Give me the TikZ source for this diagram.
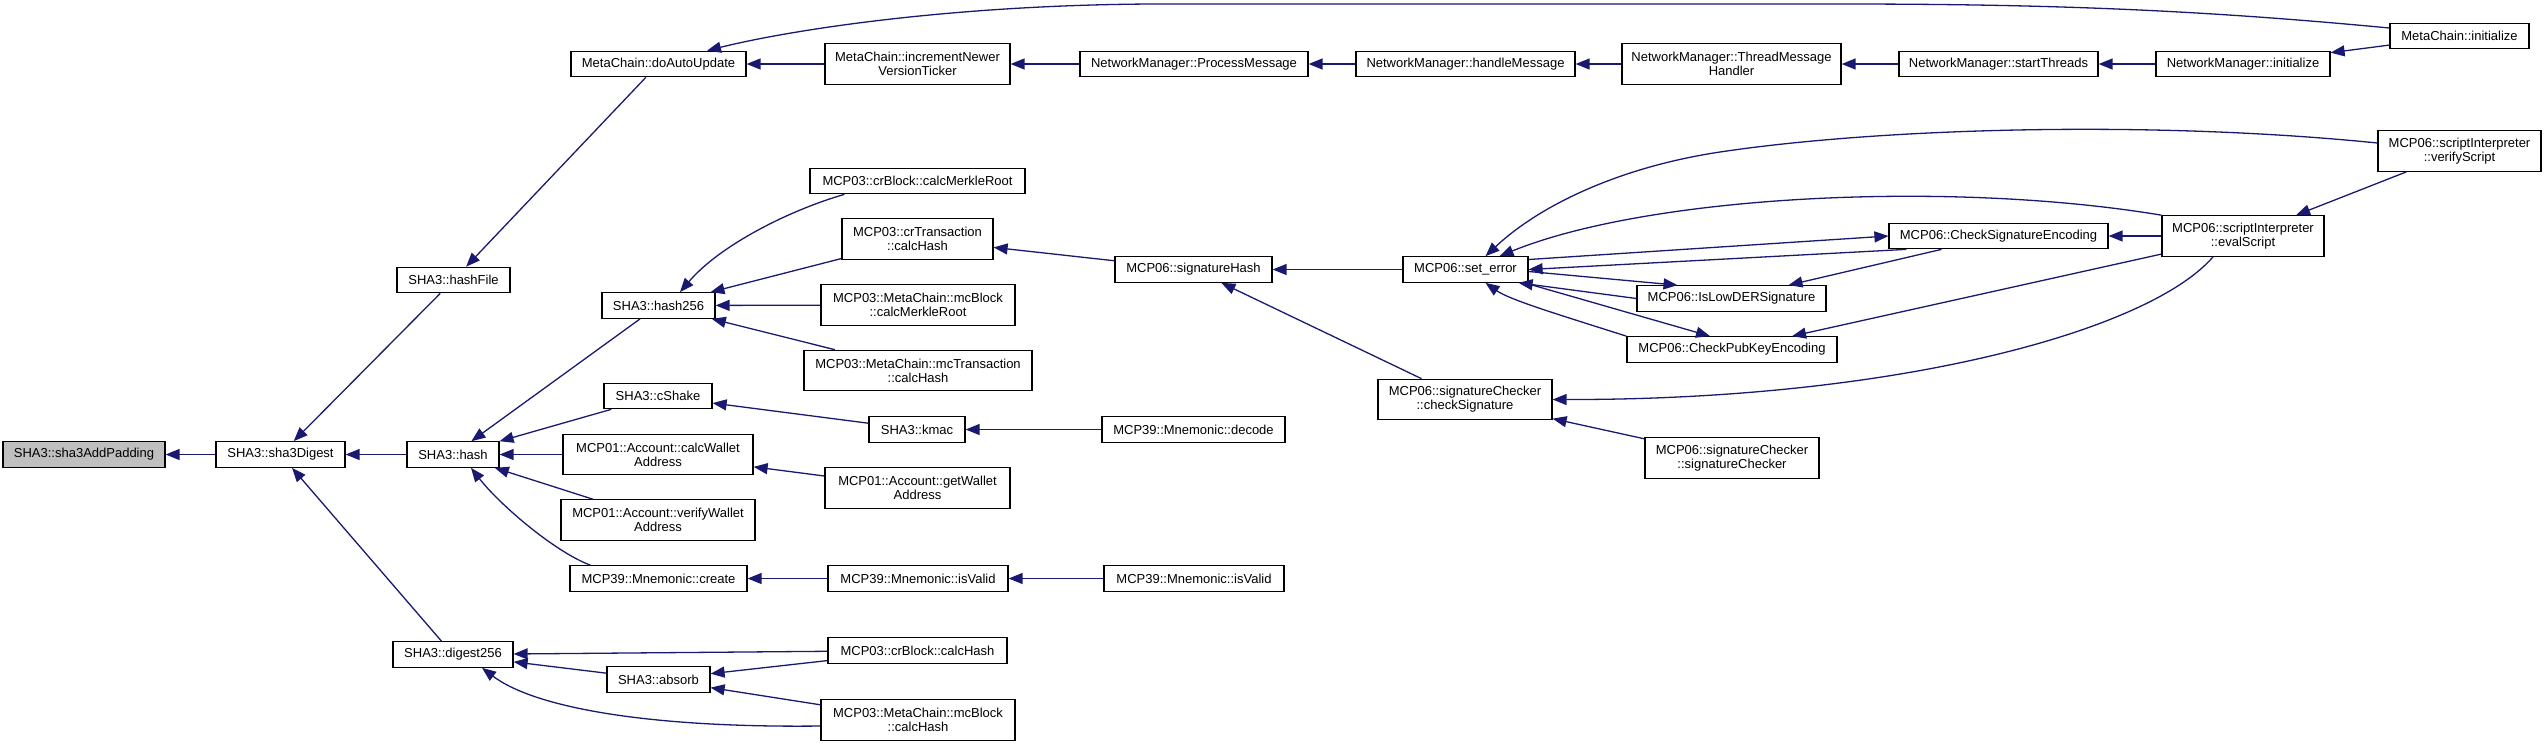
\documentclass[tikz,border=0pt]{standalone}
\usepackage{fontspec}
\setmainfont{Liberation Sans}
\usetikzlibrary{arrows.meta}
\definecolor{edgecol}{HTML}{191970}
\definecolor{rootfill}{HTML}{BFBFBF}
\tikzset{
  nd/.style={draw=black, line width=0.6pt, fill=white, minimum width=#1, minimum height=12.75pt,
    inner sep=1pt, align=center, font=\fontsize{6.5}{7}\selectfont},
  tl/.style={nd=#1, minimum height=20.25pt},
  e/.style={draw=edgecol, line width=0.65pt, -{Triangle[length=7pt,width=5.5pt]}}
}
\begin{document}
\begin{tikzpicture}[x=0.5pt,y=-0.5pt]
\useasboundingbox (0,0) rectangle (2547,746);
% column 0-2
\node[nd=81pt, fill=rootfill] (pad) at (84,454.5) {SHA3::sha3AddPadding};
\node[nd=64.5pt] (sd) at (280.5,454.5) {SHA3::sha3Digest};
\node[nd=46pt] (hash) at (453,454.5) {SHA3::hash};
\node[nd=56.5pt] (hashFile) at (453.5,280) {SHA3::hashFile};
\node[nd=60pt] (dig) at (453,654.5) {SHA3::digest256};
% column 3
\node[nd=87.5pt] (doAuto) at (658.5,64) {MetaChain::doAutoUpdate};
\node[nd=56.5pt] (h256) at (658.5,305.5) {SHA3::hash256};
\node[nd=54pt] (cShake) at (658,396) {SHA3::cShake};
\node[tl=95pt] (calcW) at (658,454.5) {MCP01::Account::calcWallet\\Address};
\node[tl=97pt] (verW) at (658,520) {MCP01::Account::verifyWallet\\Address};
\node[nd=88.5pt] (create) at (658.5,578.5) {MCP39::Mnemonic::create};
\node[nd=51.5pt] (absorb) at (658.5,679.5) {SHA3::absorb};
% column 4
\node[tl=92.5pt] (incr) at (917.5,64) {MetaChain::incrementNewer\\VersionTicker};
\node[nd=107.5pt] (crMR) at (917.5,181) {MCP03::crBlock::calcMerkleRoot};
\node[tl=75.5pt] (crTx) at (917.5,239) {MCP03::crTransaction\\::calcHash};
\node[tl=97pt] (mcMR) at (918,305) {MCP03::MetaChain::mcBlock\\::calcMerkleRoot};
\node[tl=114pt] (mcTx) at (918,370.5) {MCP03::MetaChain::mcTransaction\\::calcHash};
\node[nd=48pt] (kmac) at (917,429.5) {SHA3::kmac};
\node[tl=92.5pt] (getW) at (917.5,488) {MCP01::Account::getWallet\\Address};
\node[nd=90pt] (isV1) at (918,578.5) {MCP39::Mnemonic::isValid};
\node[nd=89.5pt] (crH) at (917.5,650.5) {MCP03::crBlock::calcHash};
\node[tl=97pt] (mcH) at (918,720) {MCP03::MetaChain::mcBlock\\::calcHash};
% column 5
\node[nd=114pt] (proc) at (1194,64) {NetworkManager::ProcessMessage};
\node[nd=78.5pt] (sigH) at (1193.5,269.5) {MCP06::signatureHash};
\node[nd=91.5pt] (decode) at (1193.5,429.5) {MCP39::Mnemonic::decode};
\node[nd=90pt] (isV2) at (1194,578.5) {MCP39::Mnemonic::isValid};
% column 6
\node[nd=109.5pt] (handle) at (1465.5,64) {NetworkManager::handleMessage};
\node[nd=62.5pt] (setE) at (1465.5,269.5) {MCP06::set\_error};
\node[tl=87pt] (chkS) at (1465,399.5) {MCP06::signatureChecker\\::checkSignature};
% column 7
\node[tl=109.5pt] (tmh) at (1731.5,64) {NetworkManager::ThreadMessage\\Handler};
\node[nd=94.5pt] (low) at (1731.5,298.5) {MCP06::IsLowDERSignature};
\node[nd=105pt] (pub) at (1732,349.5) {MCP06::CheckPubKeyEncoding};
\node[tl=87pt] (sc) at (1732,458) {MCP06::signatureChecker\\::signatureChecker};
% column 8
\node[nd=99.5pt] (start) at (1998.5,64) {NetworkManager::startThreads};
\node[nd=109.5pt] (cse) at (1998.5,236) {MCP06::CheckSignatureEncoding};
% column 9
\node[nd=87pt] (ninit) at (2243,64) {NetworkManager::initialize};
\node[tl=81pt] (eval) at (2243,236) {MCP06::scriptInterpreter\\::evalScript};
% column 10
\node[nd=69.5pt] (minit) at (2459.5,36) {MetaChain::initialize};
\node[tl=81.5pt] (verS) at (2459.5,151) {MCP06::scriptInterpreter\\::verifyScript};

% edges
\draw[e] (sd) -- (pad);
\draw[e] (hashFile) -- (sd);
\draw[e] (hash) -- (sd);
\draw[e] (dig) -- (sd);
\draw[e] (doAuto) -- (hashFile);
\draw[e] (h256) -- (hash);
\draw[e] (cShake) -- (hash);
\draw[e] (calcW) -- (hash);
\draw[e] (verW) -- (hash);
\draw[e] ([xshift=10.5pt]create.north west) .. controls (555,552) and (500,505) .. ([xshift=9pt]hash.south);
\draw[e] ([xshift=17.5pt]crMR.south west) .. controls (790,210) and (720,245) .. ([xshift=10.75pt]h256.north);
\draw[e] (crTx) -- (h256);
\draw[e] (mcMR) -- (h256);
\draw[e] (mcTx) -- (h256);
\draw[e] (incr) -- (doAuto);
\draw[e] ([yshift=4pt]minit.west) .. controls (2200,10) and (2050,4) .. (1842,4) -- (1152,4) .. controls (950,5) and (790,30) .. ([xshift=24.25pt]doAuto.north);
\draw[e] (proc) -- (incr);
\draw[e] (handle) -- (proc);
\draw[e] (tmh) -- (handle);
\draw[e] (start) -- (tmh);
\draw[e] (ninit) -- (start);
\draw[e] (minit) -- (ninit);
\draw[e] (sigH) -- (crTx);
\draw[e] (setE) -- (sigH);
\draw[e] (chkS) -- (sigH);
\draw[e] (kmac) -- (cShake);
\draw[e] (decode) -- (kmac);
\draw[e] (getW) -- (calcW);
\draw[e] (isV1) -- (create);
\draw[e] (isV2) -- (isV1);
\draw[e] (crH) -- (dig);
\draw[e] (crH) -- (absorb);
\draw[e] (absorb) -- (dig);
\draw[e] (mcH) -- (absorb);
\draw[e] ([yshift=-3pt]mcH.west) .. controls (650,728) and (535,708) .. ([xshift=14.5pt]dig.south);
% right cluster
\draw[e] ([yshift=4pt]verS.west) .. controls (2150,120) and (1880,128) .. (1720,152) .. controls (1620,167) and (1540,205) .. ([xshift=10pt]setE.north);
\draw[e] (eval.north west) .. controls (1950,180) and (1650,195) .. ([xshift=17pt]setE.north);
\draw[e] ([yshift=5pt]setE.east) -- (cse.west);
\draw[e] ([xshift=9pt]cse.south west) -- (setE.east);
\draw[e] ([yshift=-1pt]setE.east) -- ([xshift=-27pt]low.north);
\draw[e] (low.west) -- ([xshift=-5pt]setE.south east);
\draw[e] ([xshift=-2pt]setE.south east) -- ([xshift=-11pt]pub.north);
\draw[e] (pub.north west) .. controls (1560,315) and (1510,300) .. ([xshift=10pt]setE.south);
\draw[e] (cse) -- (low);
\draw[e] (eval) -- (pub);
\draw[e] (eval) -- (cse);
\draw[e] (verS) -- (eval);
\draw[e] ([xshift=-15pt]eval.south) .. controls (2150,330) and (1900,400) .. (chkS.east);
\draw[e] (sc) -- (chkS);
\end{tikzpicture}
\end{document}
